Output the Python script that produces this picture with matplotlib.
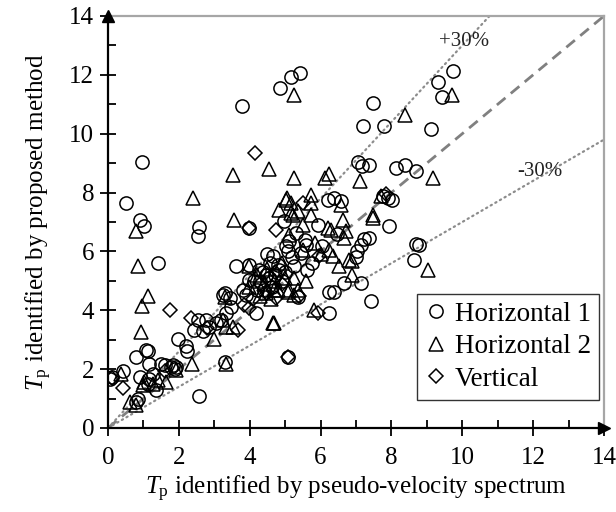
import matplotlib
matplotlib.use("Agg")
import matplotlib.pyplot as plt
import numpy as np

plt.rcParams['font.family'] = ['Liberation Serif', 'DejaVu Serif']
plt.rcParams['mathtext.fontset'] = 'custom'
plt.rcParams['mathtext.rm'] = 'Liberation Serif'
plt.rcParams['mathtext.it'] = 'Liberation Serif:italic'

# Horizontal 1 (circles)
h1_x = [3.77, 4.86, 5.16, 5.42, 7.49, 7.20, 7.79, 9.11, 9.32, 9.73, 9.44, 0.97, 0.50,
        7.06, 7.16, 7.37, 8.14, 8.38, 8.70, 7.75, 7.89, 8.03, 6.20, 6.39, 6.57, 7.92,
        7.37, 8.69, 8.78, 8.64, 7.42, 5.92, 7.23, 7.14, 7.00, 7.04, 6.67, 7.14, 6.25,
        6.39, 6.25, 5.31, 5.59, 5.63, 5.26, 5.08, 0.89, 1.03, 2.58, 2.54, 3.99, 1.41,
        3.62, 3.99, 2.54, 2.44, 2.68, 1.97, 2.19, 2.23, 3.29, 2.58, 4.18, 0.10, 0.05,
        0.42, 0.80, 1.08, 0.89, 0.85, 0.80, 1.17, 1.27, 1.50, 1.60, 1.36, 1.93, 1.83,
        4.98, 4.65, 5.02, 5.07, 5.12, 4.27, 4.46, 4.84, 3.99, 4.13, 3.80, 3.90, 3.29,
        3.43, 3.48, 3.33, 3.19, 3.05, 2.77, 2.86, 5.35, 1.13, 1.17, 1.13, 1.88, 1.79,
        3.24, 4.30, 4.55, 4.62, 4.40, 4.72, 4.80, 4.20, 4.92, 5.00, 4.58, 4.50, 4.38,
        5.20, 5.45, 5.75, 5.55, 6.05, 6.45]
h1_y = [10.95, 11.55, 11.93, 12.06, 11.04, 10.25, 10.25, 10.15, 11.77, 12.14, 11.26, 9.04, 7.63,
        9.05, 8.90, 8.93, 8.82, 8.94, 8.73, 7.88, 7.82, 7.76, 7.76, 7.82, 7.71, 6.85,
        6.47, 6.26, 6.23, 5.72, 4.33, 6.91, 6.42, 6.23, 5.81, 6.00, 4.92, 4.92, 4.63,
        4.63, 3.90, 6.63, 6.23, 5.38, 5.49, 2.42, 7.06, 6.85, 6.83, 6.54, 6.80, 5.62,
        5.49, 5.55, 3.67, 3.33, 3.30, 3.01, 2.78, 2.62, 2.25, 1.09, 3.92, 1.73, 1.68,
        1.94, 2.42, 2.65, 1.73, 1.00, 0.88, 2.19, 1.85, 2.19, 2.13, 1.28, 2.08, 2.13,
        7.02, 5.83, 6.17, 6.00, 6.34, 5.38, 5.20, 5.38, 5.03, 4.98, 4.69, 4.52, 4.58,
        4.41, 4.12, 3.90, 3.67, 3.56, 3.67, 3.44, 4.46, 2.61, 1.68, 1.51, 2.02, 2.08,
        4.52, 5.00, 5.10, 4.80, 4.70, 5.20, 5.55, 4.70, 5.00, 5.30, 5.60, 5.90, 5.30,
        5.80, 5.95, 5.60, 6.40, 6.20, 6.60]

# Horizontal 2 (triangles)
h2_x = [5.26, 4.55, 3.52, 2.39, 5.26, 5.04, 8.39, 9.72, 7.11, 9.16, 6.13, 6.25, 5.73,
        5.02, 7.49, 7.70, 7.49, 9.04, 6.57, 5.73, 5.17, 5.73, 6.62, 5.49, 6.20, 6.29,
        6.72, 6.67, 6.25, 6.34, 6.51, 6.90, 6.90, 5.82, 5.59, 5.26, 6.81, 5.12, 0.80,
        3.57, 4.84, 5.17, 0.85, 1.13, 0.97, 0.92, 3.99, 3.00, 3.32, 2.38, 4.65, 0.38,
        0.61, 0.80, 1.03, 1.27, 1.64, 1.41, 1.91, 3.29, 5.12, 3.99, 4.46, 4.69, 5.07,
        4.69, 3.24, 3.33, 3.52, 5.35, 5.26, 0.99, 5.21, 5.35, 4.20, 4.50, 4.40, 4.72,
        4.90, 4.30, 4.60, 5.00, 4.80, 5.50, 5.85, 6.00]
h2_y = [11.31, 8.81, 8.61, 7.80, 8.50, 7.82, 10.63, 11.31, 8.39, 8.50, 8.50, 8.62, 7.93,
        7.76, 7.25, 7.90, 7.14, 5.38, 7.59, 7.65, 7.65, 7.25, 7.08, 6.91, 6.80, 6.74,
        6.68, 6.46, 6.06, 5.83, 5.49, 5.66, 5.20, 4.01, 4.98, 5.09, 5.72, 4.69, 6.68,
        7.08, 7.42, 7.31, 5.49, 4.49, 4.15, 3.27, 5.49, 3.02, 2.19, 2.19, 3.58, 1.85,
        0.88, 0.77, 1.56, 1.51, 1.56, 1.62, 1.96, 4.46, 6.57, 4.80, 4.58, 4.69, 4.63,
        3.56, 3.67, 3.44, 3.44, 4.69, 4.52, 1.45, 7.25, 7.37, 5.20, 5.40, 4.90, 5.00,
        5.60, 4.50, 4.40, 5.10, 4.70, 6.05, 6.30, 5.90]

# Vertical (diamonds)
v_x = [4.15, 5.49, 7.85, 5.96, 5.40, 5.92, 5.08, 3.99, 4.74, 1.74, 2.35, 3.66, 0.42,
       3.85, 3.99, 4.74, 0.10, 4.30, 4.50, 4.70, 4.10, 4.90, 1.60, 2.80]
v_y = [9.33, 7.65, 7.95, 5.83, 4.47, 3.90, 2.42, 6.80, 6.74, 4.01, 3.73, 3.33, 1.37,
       4.18, 4.07, 4.41, 1.70, 4.90, 4.60, 5.30, 4.40, 4.90, 1.95, 3.40]

x_ticks = [0, 2, 4, 6, 8, 10, 12, 14]
y_ticks = [0, 2, 4, 6, 8, 10, 12, 14]

fig = plt.figure(figsize=(6.16, 5.12), dpi=100)
ax = fig.add_axes([108/616, 1 - 428/512, (604 - 108)/616, (428 - 16)/512])

lim = 14
ax.plot([0, lim], [0, lim], color='#808080', lw=2.0, ls=(0, (4, 2.5)), zorder=1)
ax.plot([0, lim / 1.3], [0, lim], color='#8c8c8c', lw=1.6, ls=(0, (0.6, 1.8)),
        dash_capstyle='round', zorder=1)
ax.plot([0, lim], [0, lim * 0.7], color='#8c8c8c', lw=1.6, ls=(0, (0.6, 1.8)),
        dash_capstyle='round', zorder=1)

ms = 9.5
mew = 1.1
ax.plot(h1_x, h1_y, ls='none', marker='o', ms=ms, mfc='none', mec='black', mew=mew,
        label='Horizontal 1', zorder=3)
ax.plot(h2_x, h2_y, ls='none', marker='^', ms=ms, mfc='none', mec='black', mew=mew,
        label='Horizontal 2', zorder=3)
ax.plot(v_x, v_y, ls='none', marker='D', ms=ms * 0.72, mfc='none', mec='black', mew=mew,
        label='Vertical', zorder=3)

ax.text(10.05, 13.15, '+30%', fontsize=15, ha='center', va='center', color='#222222')
ax.text(12.2, 8.72, '-30%', fontsize=15, ha='center', va='center', color='#222222')

ax.set_xlim(0, lim)
ax.set_ylim(0, lim)
ax.set_xticks(x_ticks)
ax.set_yticks(y_ticks)
ax.set_xticks(np.arange(1, 14, 2), minor=True)
ax.set_yticks(np.arange(1, 14, 2), minor=True)
ax.tick_params(which='major', direction='inout', length=12, width=1.3, labelsize=18,
               pad=4)
ax.tick_params(axis='x', which='major', pad=8)
ax.tick_params(which='minor', direction='in', length=6, width=1.3)

for s in ['top', 'right']:
    ax.spines[s].set_color('#a6a6a6')
    ax.spines[s].set_linewidth(1.6)
for s in ['left', 'bottom']:
    ax.spines[s].set_color('black')
    ax.spines[s].set_linewidth(1.6)
    ax.spines[s].set_zorder(4)

ax.plot([0], [1], marker='^', ms=9, color='black', transform=ax.transAxes,
        clip_on=False, zorder=5)
ax.plot([1], [0], marker='>', ms=9, color='black', transform=ax.transAxes,
        clip_on=False, zorder=5)

ax.set_xlabel(r'$\mathit{T}_{\mathrm{p}}$ identified by pseudo-velocity spectrum',
              fontsize=18, labelpad=3)
ax.set_ylabel(r'$\mathit{T}_{\mathrm{p}}$ identified by proposed method',
              fontsize=18, labelpad=11)

leg = ax.legend(loc='lower right', bbox_to_anchor=(0.99, 0.068), fontsize=19.5,
                frameon=True, fancybox=False, edgecolor='black', handlelength=0.8,
                handletextpad=0.3, borderpad=0.3, labelspacing=0.28,
                borderaxespad=0.0)
leg.get_frame().set_linewidth(1.0)

fig.savefig('out.png', dpi=100)
